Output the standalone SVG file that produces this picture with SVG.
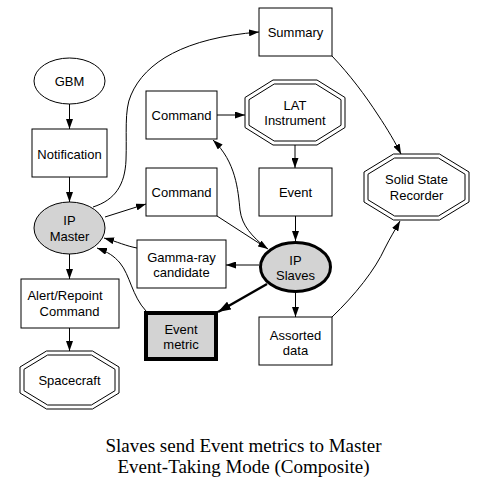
<svg xmlns="http://www.w3.org/2000/svg" width="487" height="488" viewBox="0 0 487 488">
<defs>
<marker id="ah" viewBox="0 0 10 7" refX="10" refY="3.5" markerWidth="10" markerHeight="7" markerUnits="userSpaceOnUse" orient="auto"><path d="M0,0 L10,3.5 L0,7 z" fill="#000"/></marker>
<marker id="ahb" viewBox="0 0 13 9" refX="13" refY="4.5" markerWidth="13" markerHeight="9" markerUnits="userSpaceOnUse" orient="auto"><path d="M0,0 L13,4.5 L0,9 z" fill="#000"/></marker>
</defs>
<style>
.n{fill:#fff;stroke:#000;stroke-width:1}
.g{fill:#d3d3d3;stroke:#000;stroke-width:1}
.t{font-family:"Liberation Sans",Arial,sans-serif;font-size:13px;text-anchor:middle;fill:#000}
.e{fill:none;stroke:#000;stroke-width:1;marker-end:url(#ah)}
.title{font-family:"Liberation Serif","Times New Roman",serif;font-size:19px;text-anchor:middle;fill:#000}
</style>
<rect width="487" height="488" fill="#fff"/>
<g id="connectors">
<path class="e" d="M69.5,104 L69.5,129"/>
<path class="e" d="M69.5,177 L69.5,202"/>
<path class="e" d="M69.5,254 L69.5,279"/>
<path class="e" d="M69.5,328 L69.5,351"/>
<path class="e" d="M93,207 C115,200 125,185 126,160 C127,135 124,110 131,95 C145,62 185,38 259,32"/>
<path class="e" d="M105,217 L146,204"/>
<path class="e" d="M217,115 L245,115"/>
<path class="e" d="M266,248 C252,236 242,226 240,210 C238,190 236,162 213,140"/>
<path class="e" d="M217,216 L268,249"/>
<path class="e" d="M295,145 L295,168"/>
<path class="e" d="M295.5,216 L295.5,241"/>
<path class="e" d="M259,265 L226,265"/>
<path class="e" d="M137,248 C126,246 118,242 104,238"/>
<path class="e" d="M146,311 C132,296 130,275 120,263 C114,256 108,252 97,248"/>
<path d="M267,284 L218,312" fill="none" stroke="#000" stroke-width="2.5" marker-end="url(#ahb)"/>
<path class="e" d="M295.5,293 L295.5,317"/>
<path class="e" d="M332,56 C350,75 365,95 378,115 C388,130 395,142 401,154"/>
<path class="e" d="M332,317 C355,295 375,270 385,248 C390,238 395,230 400,221"/>
</g>
<g id="gbm"><ellipse class="n" cx="69.5" cy="81" rx="35.5" ry="23"/><text class="t" x="69.5" y="86">GBM</text></g>
<g id="notification"><rect class="n" x="32" y="129" width="75" height="48"/><text class="t" x="69.5" y="158.5">Notification</text></g>
<g id="ipmaster"><ellipse class="g" cx="69.5" cy="228" rx="35.5" ry="26"/><text class="t" x="69.5" y="224.5">IP</text><text class="t" x="69.5" y="240.5">Master</text></g>
<g id="alert"><rect class="n" x="21" y="279" width="98" height="49"/><text class="t" x="65" y="299.5">Alert/Repoint</text><text class="t" x="69.5" y="315.5">Command</text></g>
<g id="spacecraft"><polygon class="n" points="46.5,351 92.5,351 119,367 119,393 92.5,409 46.5,409 20,393 20,367"/><polygon class="n" points="47.6,355 91.4,355 115,369.3 115,390.7 91.4,405 47.6,405 24,390.7 24,369.3"/><text class="t" x="69.5" y="385">Spacecraft</text></g>
<g id="command1"><rect class="n" x="146" y="91" width="71" height="48"/><text class="t" x="181.5" y="120">Command</text></g>
<g id="command2"><rect class="n" x="146" y="168" width="71" height="48"/><text class="t" x="181.5" y="197">Command</text></g>
<g id="summary"><rect class="n" x="259" y="8" width="73" height="48"/><text class="t" x="295.5" y="37">Summary</text></g>
<g id="lat"><polygon class="n" points="273,80 317,80 345,97.5 345,127.5 317,145 273,145 245,127.5 245,97.5"/><polygon class="n" points="274.2,84 315.8,84 341,99.7 341,125.3 315.8,141 274.2,141 249,125.3 249,99.7"/><text class="t" x="295" y="109.5">LAT</text><text class="t" x="295" y="124.5">Instrument</text></g>
<g id="event"><rect class="n" x="259" y="168" width="73" height="48"/><text class="t" x="295.5" y="197">Event</text></g>
<g id="ssr"><polygon class="n" points="393.5,154 439.5,154 469,172 469,202 439.5,220 393.5,220 364,202 364,172"/><polygon class="n" points="394.6,158 438.4,158 465,174.2 465,199.8 438.4,216 394.6,216 368,199.8 368,174.2"/><text class="t" x="416.5" y="184">Solid State</text><text class="t" x="416.5" y="199.5">Recorder</text></g>
<g id="ipslaves"><ellipse cx="295.5" cy="267" rx="35" ry="24.5" fill="#d3d3d3" stroke="#000" stroke-width="3"/><text class="t" x="295.5" y="264.5">IP</text><text class="t" x="295.5" y="280">Slaves</text></g>
<g id="gamma"><rect class="n" x="137" y="240" width="89" height="48"/><text class="t" x="181.5" y="261.5">Gamma-ray</text><text class="t" x="181.5" y="276.5">candidate</text></g>
<g id="eventmetric"><rect x="146" y="313" width="70" height="46" fill="#d3d3d3" stroke="#000" stroke-width="4"/><text class="t" x="181" y="333.5">Event</text><text class="t" x="181" y="349">metric</text></g>
<g id="assorted"><rect class="n" x="259" y="317" width="73" height="48"/><text class="t" x="295.5" y="339.5">Assorted</text><text class="t" x="295.5" y="354.5">data</text></g>
<g id="caption"><text class="title" x="243.5" y="452">Slaves send Event metrics to Master</text><text class="title" x="243.5" y="472.5">Event-Taking Mode (Composite)</text></g>
</svg>
